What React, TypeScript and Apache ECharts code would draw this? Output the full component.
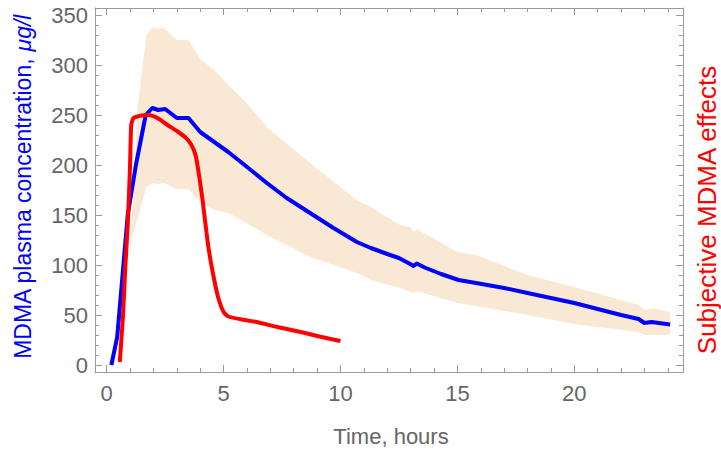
import React, { useEffect, useRef } from "react";
import * as echarts from "echarts";

// Mean MDMA plasma concentration (µg/l) vs time (hours)
const plasmaTime = [0.2, 0.45, 0.9, 1.25, 1.67, 1.95, 2.2, 2.5, 3.0, 3.5, 4.0, 4.6, 5.2, 5.9, 6.85, 7.7, 8.7, 9.7, 10.7, 11.3, 12.0, 12.5, 12.98, 13.12, 13.26, 13.6, 14.3, 15.05, 15.8, 17.0, 18.0, 19.0, 20.0, 21.0, 22.0, 22.75, 23.0, 23.3, 24.1];
const plasmaMean = [0, 28, 150, 200, 250, 257, 255, 256, 247, 247, 233, 223, 213, 200, 182, 167, 152, 137, 123, 117, 111, 107, 101, 99, 101.5, 97.5, 91, 85, 82, 77, 72, 67, 62, 56, 50, 46, 42, 43, 40.5];

// Variability band around the plasma concentration
const bandTime = [1.0, 1.2, 1.3, 1.7, 1.95, 2.2, 2.45, 3.0, 3.5, 4.0, 4.6, 5.2, 5.9, 6.85, 8.7, 10.7, 11.3, 12.55, 12.98, 13.12, 13.26, 15.0, 15.8, 18.0, 20.0, 22.75, 23.0, 23.4, 24.1];
const bandLower = [120, 137, 145, 178, 182, 181, 182, 176, 176, 163, 155, 152, 143, 130, 108, 92, 85, 77, 73, 72, 74, 62, 59, 50, 41, 33, 30, 30, 30];
const bandUpper = [122, 190, 255, 330, 338, 336, 337, 325, 325, 306, 295, 280, 264, 238, 202, 165, 158, 140, 138, 133, 136, 113, 110, 90, 78, 60, 55, 56.5, 53];

// Subjective MDMA effects (in plot units)
const effectTime = [0.56, 0.7, 0.8, 0.9, 1.0, 1.05, 1.15, 1.5, 1.8, 2.2, 2.6, 3.0, 3.35, 3.6, 3.8, 3.95, 4.1, 4.35, 4.6, 4.8, 5.0, 5.2, 5.9, 6.4, 7.3, 8.3, 9.1, 10.0];
const effectValue = [3, 50, 100, 140, 200, 240, 247, 249.5, 250, 246.5, 240, 234, 228, 221, 210, 190, 165, 118, 85, 65, 53, 48.5, 45, 43, 38, 33, 28.5, 24];

const xMajorTicks = [0, 5, 10, 15, 20];
const xMinorTicks = [1, 2, 3, 4, 6, 7, 8, 9, 11, 12, 13, 14, 16, 17, 18, 19, 21, 22, 23, 24];
const yMajorTicks = [0, 50, 100, 150, 200, 250, 300, 350];
const yMinorTicks = [10, 20, 30, 40, 60, 70, 80, 90, 110, 120, 130, 140, 160, 170, 180, 190, 210, 220, 230, 240, 260, 270, 280, 290, 310, 320, 330, 340];

const xTitle = "Time, hours";
const yTitle = "MDMA plasma concentration, ";
const yTitleUnit = "μg/l";
const y2Title = "Subjective MDMA effects";

const FRAME = "#9a9a9a";
const LABEL = "#666666";
const FONT = "'Liberation Sans', Arial, sans-serif";

export default function App() {
  const ref = useRef<HTMLDivElement>(null);
  useEffect(() => {
    if (!ref.current) return;
    const chart = echarts.init(ref.current, null, { renderer: "svg" });
    const xRange = { min: -0.5, max: 24.65 };
    const yRange = { min: -7, max: 357 };
    const mkX = (position: string, ticks: number[], len: number, showLine: boolean, showLabel: boolean) => ({
      type: "value",
      position,
      ...xRange,
      splitLine: { show: false },
      axisLine: { show: showLine, onZero: false, lineStyle: { color: FRAME, width: 1 } },
      axisTick: { show: true, inside: true, length: len, customValues: ticks, lineStyle: { color: FRAME, width: 1 } },
      axisLabel: showLabel
        ? { show: true, customValues: ticks, fontSize: 22, color: LABEL, fontFamily: FONT, margin: 10 }
        : { show: false },
    });
    const mkY = (position: string, ticks: number[], len: number, showLine: boolean, showLabel: boolean) => ({
      type: "value",
      position,
      ...yRange,
      splitLine: { show: false },
      axisLine: { show: showLine, onZero: false, lineStyle: { color: FRAME, width: 1 } },
      axisTick: { show: true, inside: true, length: len, customValues: ticks, lineStyle: { color: FRAME, width: 1 } },
      axisLabel: showLabel
        ? { show: true, customValues: ticks, fontSize: 22, color: LABEL, fontFamily: FONT, margin: 7 }
        : { show: false },
    });
    const bandData = bandTime.map((t, i) => [t, bandLower[i], bandUpper[i]]);
    chart.setOption({
      animation: false,
      backgroundColor: "#ffffff",
      grid: { left: 95, top: 8, width: 588, height: 364, containLabel: false },
      xAxis: [
        mkX("bottom", xMajorTicks, 7, true, true),
        mkX("bottom", xMinorTicks, 4, false, false),
        mkX("top", xMajorTicks, 7, true, false),
        mkX("top", xMinorTicks, 4, false, false),
      ],
      yAxis: [
        mkY("left", yMajorTicks, 7, true, true),
        mkY("left", yMinorTicks, 4, false, false),
        mkY("right", yMajorTicks, 7, true, false),
        mkY("right", yMinorTicks, 4, false, false),
      ],
      series: [
        {
          type: "custom",
          name: "band",
          data: bandData,
          silent: true,
          encode: { x: 0, y: [1, 2] },
          renderItem: (params: any, api: any) => {
            if (params.dataIndex !== 0) return null;
            const upper = bandData.map((d) => api.coord([d[0], d[2]]));
            const lower = bandData.map((d) => api.coord([d[0], d[1]])).reverse();
            return {
              type: "polygon",
              shape: { points: upper.concat(lower) },
              style: { fill: "#f9e9d4", stroke: "none" },
            };
          },
        },
        {
          type: "line",
          name: "plasma",
          data: plasmaTime.map((t, i) => [t, plasmaMean[i]]),
          symbol: "none",
          clip: false,
          lineStyle: { color: "#0000ff", width: 4, join: "round" },
        },
        {
          type: "line",
          name: "effects",
          data: effectTime.map((t, i) => [t, effectValue[i]]),
          symbol: "none",
          clip: false,
          smooth: 0.2,
          lineStyle: { color: "#ff0000", width: 4, join: "round" },
        },
      ],
      graphic: [
        {
          type: "text",
          x: 391,
          y: 436,
          style: { text: xTitle, fontSize: 22, fill: LABEL, fontFamily: FONT, align: "center", verticalAlign: "middle" },
        },
        {
          type: "text",
          x: 23,
          y: 187,
          rotation: Math.PI / 2,
          style: {
            text: yTitle + "{i|" + yTitleUnit + "}",
            fontSize: 23,
            fill: "#0000ff",
            fontFamily: FONT,
            align: "center",
            verticalAlign: "middle",
            rich: { i: { fontSize: 23, fill: "#0000ff", fontFamily: FONT, fontStyle: "italic" } },
          },
        },
        {
          type: "text",
          x: 707,
          y: 210,
          rotation: Math.PI / 2,
          style: { text: y2Title, fontSize: 26, fill: "#ff0000", fontFamily: FONT, align: "center", verticalAlign: "middle" },
        },
      ],
    });
    return () => chart.dispose();
  }, []);
  return <div ref={ref} style={{ width: 721, height: 450, position: "absolute", left: 0, top: 0 }} />;
}
